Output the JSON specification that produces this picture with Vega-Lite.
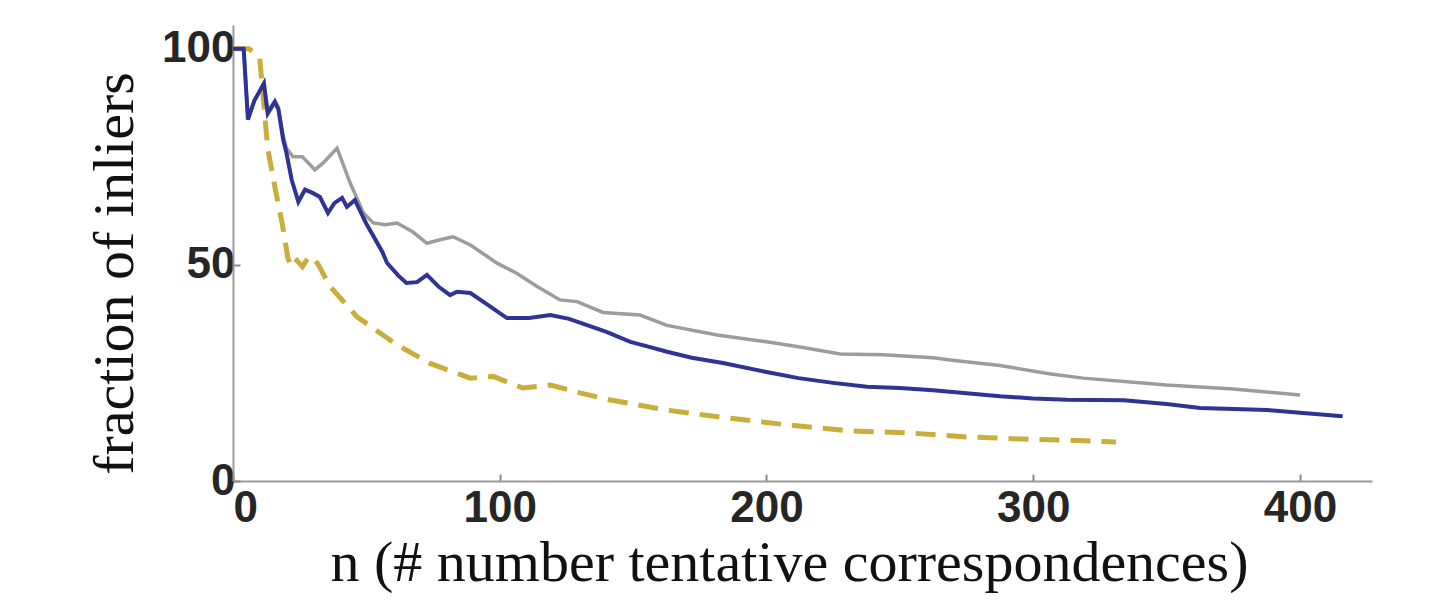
{
  "$schema": "https://vega.github.io/schema/vega-lite/v6.json",
  "width": 1139,
  "height": 456,
  "autosize": {"type": "none"},
  "padding": {"left": 233, "top": 25, "right": 71, "bottom": 130},
  "background": "#ffffff",
  "config": {
    "view": {"stroke": null},
    "axis": {
      "grid": false,
      "domainColor": "#9a9a9a",
      "domainWidth": 2,
      "tickColor": "#8a8a8a",
      "tickWidth": 2,
      "tickSize": -7,
      "labelFont": "Liberation Sans",
      "labelFontWeight": "bold",
      "labelFontSize": 44,
      "labelColor": "#262626",
      "titleFont": "Liberation Serif",
      "titleFontWeight": "normal",
      "titleFontSize": 58,
      "titleColor": "#111111"
    }
  },
  "datasets": {
    "curves": [
      {"s": "blue", "n": 0, "v": 100}, {"s": "blue", "n": 4, "v": 100}, {"s": "blue", "n": 5.6, "v": 83.6}, {"s": "blue", "n": 8, "v": 88}, {"s": "blue", "n": 11.6, "v": 92}, {"s": "blue", "n": 13, "v": 85}, {"s": "blue", "n": 15.7, "v": 87.7}, {"s": "blue", "n": 17, "v": 86}, {"s": "blue", "n": 18.8, "v": 79}, {"s": "blue", "n": 20, "v": 76}, {"s": "blue", "n": 22, "v": 69.7}, {"s": "blue", "n": 24.5, "v": 64.6}, {"s": "blue", "n": 27, "v": 67.4}, {"s": "blue", "n": 30, "v": 66.6}, {"s": "blue", "n": 32.6, "v": 65.7}, {"s": "blue", "n": 35.6, "v": 62}, {"s": "blue", "n": 38, "v": 64.3}, {"s": "blue", "n": 40.9, "v": 65.5}, {"s": "blue", "n": 42.7, "v": 63.4}, {"s": "blue", "n": 45.7, "v": 65}, {"s": "blue", "n": 50, "v": 59.5}, {"s": "blue", "n": 56, "v": 53}, {"s": "blue", "n": 57.7, "v": 50.5}, {"s": "blue", "n": 62, "v": 47.5}, {"s": "blue", "n": 65, "v": 45.8}, {"s": "blue", "n": 69, "v": 46}, {"s": "blue", "n": 72.7, "v": 47.7}, {"s": "blue", "n": 77, "v": 45}, {"s": "blue", "n": 81.4, "v": 43}, {"s": "blue", "n": 84, "v": 43.8}, {"s": "blue", "n": 89, "v": 43.5}, {"s": "blue", "n": 95, "v": 41}, {"s": "blue", "n": 102.7, "v": 37.7}, {"s": "blue", "n": 111, "v": 37.7}, {"s": "blue", "n": 119, "v": 38.4}, {"s": "blue", "n": 126, "v": 37.5}, {"s": "blue", "n": 133, "v": 36}, {"s": "blue", "n": 140, "v": 34.5}, {"s": "blue", "n": 149, "v": 32.2}, {"s": "blue", "n": 155, "v": 31.2}, {"s": "blue", "n": 162.7, "v": 29.9}, {"s": "blue", "n": 172, "v": 28.5}, {"s": "blue", "n": 183.7, "v": 27.3}, {"s": "blue", "n": 200, "v": 25.2}, {"s": "blue", "n": 212, "v": 23.8}, {"s": "blue", "n": 225, "v": 22.7}, {"s": "blue", "n": 237.7, "v": 21.8}, {"s": "blue", "n": 250, "v": 21.5}, {"s": "blue", "n": 262.5, "v": 21}, {"s": "blue", "n": 275, "v": 20.3}, {"s": "blue", "n": 287.6, "v": 19.6}, {"s": "blue", "n": 300, "v": 19.1}, {"s": "blue", "n": 312.7, "v": 18.8}, {"s": "blue", "n": 334, "v": 18.7}, {"s": "blue", "n": 350, "v": 17.8}, {"s": "blue", "n": 362.6, "v": 16.9}, {"s": "blue", "n": 387.7, "v": 16.4}, {"s": "blue", "n": 400, "v": 15.8}, {"s": "blue", "n": 416, "v": 15},
      {"s": "gray", "n": 0, "v": 100}, {"s": "gray", "n": 4, "v": 100}, {"s": "gray", "n": 5.6, "v": 84}, {"s": "gray", "n": 8, "v": 88}, {"s": "gray", "n": 11.6, "v": 92}, {"s": "gray", "n": 13, "v": 85.5}, {"s": "gray", "n": 15.7, "v": 88}, {"s": "gray", "n": 17, "v": 86.5}, {"s": "gray", "n": 18.8, "v": 80}, {"s": "gray", "n": 20, "v": 77}, {"s": "gray", "n": 22.5, "v": 75}, {"s": "gray", "n": 26, "v": 75}, {"s": "gray", "n": 30.7, "v": 72}, {"s": "gray", "n": 33.8, "v": 73.6}, {"s": "gray", "n": 39, "v": 77}, {"s": "gray", "n": 43.9, "v": 69}, {"s": "gray", "n": 48.9, "v": 62}, {"s": "gray", "n": 52.6, "v": 59.7}, {"s": "gray", "n": 57, "v": 59.3}, {"s": "gray", "n": 61.5, "v": 59.7}, {"s": "gray", "n": 67.5, "v": 57.6}, {"s": "gray", "n": 72.7, "v": 55}, {"s": "gray", "n": 77.6, "v": 55.8}, {"s": "gray", "n": 82.5, "v": 56.5}, {"s": "gray", "n": 89, "v": 54.6}, {"s": "gray", "n": 99, "v": 50.4}, {"s": "gray", "n": 106.5, "v": 48}, {"s": "gray", "n": 114, "v": 45}, {"s": "gray", "n": 122.6, "v": 41.9}, {"s": "gray", "n": 129, "v": 41.5}, {"s": "gray", "n": 138.7, "v": 39}, {"s": "gray", "n": 152.6, "v": 38.4}, {"s": "gray", "n": 162.7, "v": 36}, {"s": "gray", "n": 181.5, "v": 33.8}, {"s": "gray", "n": 200, "v": 32.2}, {"s": "gray", "n": 212.6, "v": 31}, {"s": "gray", "n": 227.6, "v": 29.4}, {"s": "gray", "n": 243.7, "v": 29.2}, {"s": "gray", "n": 262.5, "v": 28.5}, {"s": "gray", "n": 268.8, "v": 28}, {"s": "gray", "n": 287.6, "v": 26.7}, {"s": "gray", "n": 306, "v": 24.8}, {"s": "gray", "n": 318.7, "v": 23.8}, {"s": "gray", "n": 350, "v": 22.2}, {"s": "gray", "n": 375, "v": 21.3}, {"s": "gray", "n": 400, "v": 19.9},
      {"s": "yellow", "n": 0, "v": 100}, {"s": "yellow", "n": 6, "v": 100}, {"s": "yellow", "n": 10, "v": 98}, {"s": "yellow", "n": 11.3, "v": 89}, {"s": "yellow", "n": 13, "v": 77}, {"s": "yellow", "n": 15.7, "v": 68}, {"s": "yellow", "n": 18.4, "v": 59.7}, {"s": "yellow", "n": 20.6, "v": 51.5}, {"s": "yellow", "n": 22, "v": 49.5}, {"s": "yellow", "n": 24, "v": 51}, {"s": "yellow", "n": 26, "v": 49.6}, {"s": "yellow", "n": 28, "v": 51.5}, {"s": "yellow", "n": 30, "v": 51.8}, {"s": "yellow", "n": 32, "v": 50}, {"s": "yellow", "n": 36.4, "v": 45}, {"s": "yellow", "n": 46.5, "v": 38}, {"s": "yellow", "n": 61.5, "v": 31.5}, {"s": "yellow", "n": 73.9, "v": 27.2}, {"s": "yellow", "n": 89, "v": 23.8}, {"s": "yellow", "n": 97.5, "v": 24.2}, {"s": "yellow", "n": 108.7, "v": 21.5}, {"s": "yellow", "n": 119, "v": 22.2}, {"s": "yellow", "n": 130, "v": 20.4}, {"s": "yellow", "n": 141, "v": 18.8}, {"s": "yellow", "n": 162.7, "v": 16.4}, {"s": "yellow", "n": 185, "v": 14.6}, {"s": "yellow", "n": 207.7, "v": 13}, {"s": "yellow", "n": 231, "v": 11.6}, {"s": "yellow", "n": 254, "v": 11.1}, {"s": "yellow", "n": 275, "v": 10.2}, {"s": "yellow", "n": 300, "v": 9.6}, {"s": "yellow", "n": 310, "v": 9.5}, {"s": "yellow", "n": 331, "v": 9}
    ]
  },
  "data": {"name": "curves"},
  "encoding": {
    "x": {
      "field": "n", "type": "quantitative",
      "scale": {"domain": [0, 427], "nice": false, "zero": false},
      "axis": {
        "values": [0, 100, 200, 300, 400],
        "labelPadding": 12,
        "title": "n (# number tentative correspondences)",
        "titleBaseline": "alphabetic",
        "titleY": 99,
        "titleX": 556
      }
    },
    "y": {
      "field": "v", "type": "quantitative",
      "scale": {"domain": [0, 105.5], "nice": false},
      "axis": {
        "values": [0, 50, 100],
        "labelPadding": 5,
        "title": "fraction of inliers",
        "titleBaseline": "alphabetic",
        "titleX": -101,
        "titleY": 248
      }
    }
  },
  "layer": [
    {
      "transform": [{"filter": "datum.s === 'gray'"}],
      "mark": {"type": "line", "color": "#9c9c9c", "strokeWidth": 3.5}
    },
    {
      "transform": [{"filter": "datum.s === 'yellow'"}],
      "mark": {"type": "line", "color": "#c9ae3c", "strokeWidth": 5, "strokeDash": [20, 11]}
    },
    {
      "transform": [{"filter": "datum.s === 'blue'"}],
      "mark": {"type": "line", "color": "#2f3394", "strokeWidth": 4}
    }
  ]
}
